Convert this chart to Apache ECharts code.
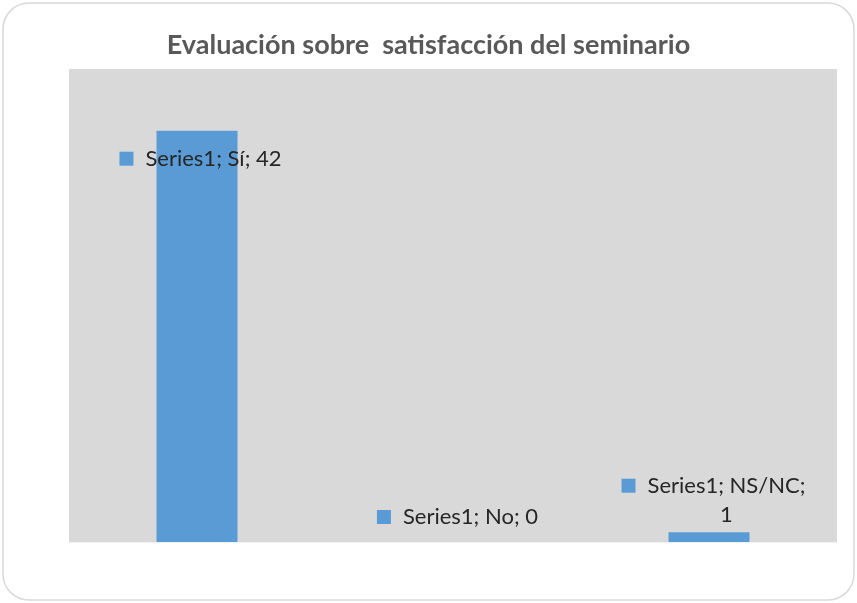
<!DOCTYPE html>
<html>
<head>
<meta charset="utf-8">
<script src="https://cdn.jsdelivr.net/npm/echarts@6/dist/echarts.min.js"></script>
<style>
  html, body { margin: 0; padding: 0; background: #ffffff; }
  #chart { width: 857px; height: 603px; }
</style>
</head>
<body>
<div id="chart"></div>
<script>
// datos del gráfico
const titleText = 'Evaluación sobre  satisfacción del seminario'
const seriesName = 'Series1'
const categories = ['Sí', 'No', 'NS/NC']
const values = [42, 0, 1]

const barColor = '#5b9bd5'
const labelColor = '#262626'

// posición de cada etiqueta respecto a la barra (estilo Excel)
const labelPos = [[44, 28], [45, -25], [45, -32]]

const chart = echarts.init(document.getElementById('chart'), null, { renderer: 'canvas' })

const labelText = (cat, val) => {
  const txt = `${seriesName}; ${cat}; ${val}`
  // NS/NC se parte en dos líneas
  if (txt.length > 16) {
    return `{sq|}{gap|}{t|${seriesName}; ${cat};}\n{pad|}{t|${val}}`
  }
  return `{sq|}{gap|}{t|${txt}}`
}

const data = values.map((v, i) => ({
  value: v,
  label: {
    show: true,
    position: labelPos[i],
    align: 'center',
    verticalAlign: 'middle',
    formatter: () => labelText(categories[i], v),
    rich: {
      sq: { width: 14, height: 14, backgroundColor: barColor },
      gap: { width: 12 },
      pad: { width: 26 },
      t: { fontFamily: 'Lato', fontSize: 22, color: labelColor, lineHeight: 29 }
    }
  }
}))

const option = {
  backgroundColor: '#ffffff',
  animation: false,
  title: {
    text: titleText,
    left: 'center',
    top: 27,
    textStyle: {
      fontFamily: 'Lato',
      fontSize: 27,
      fontWeight: 'bold',
      color: '#595959'
    }
  },
  graphic: [{
    type: 'rect',
    shape: { x: 3, y: 3, width: 851, height: 597, r: 26 },
    style: { fill: 'none', stroke: '#d9d9d9', lineWidth: 1.5 },
    z: -1
  }],
  grid: {
    left: 69,
    right: 20,
    top: 69,
    bottom: 61,
    show: true,
    backgroundColor: '#d9d9d9',
    borderWidth: 0
  },
  xAxis: {
    type: 'category',
    data: categories,
    axisLine: { show: true, lineStyle: { color: '#f2f2f2', width: 1 } },
    axisTick: { show: false },
    axisLabel: { show: false }
  },
  yAxis: {
    type: 'value',
    min: 0,
    max: 48.3,
    show: false,
    splitLine: { show: false }
  },
  series: [{
    name: seriesName,
    type: 'bar',
    data: data,
    barWidth: 81,
    itemStyle: { color: barColor }
  }]
}

chart.setOption(option)
</script>
</body>
</html>
